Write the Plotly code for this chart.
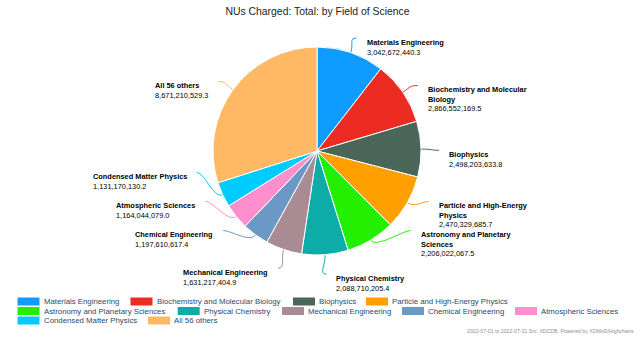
import math
import textwrap
import plotly.graph_objects as go

# ---------------- data ----------------
categories = [
    "Materials Engineering",
    "Biochemistry and Molecular Biology",
    "Biophysics",
    "Particle and High-Energy Physics",
    "Astronomy and Planetary Sciences",
    "Physical Chemistry",
    "Mechanical Engineering",
    "Chemical Engineering",
    "Atmospheric Sciences",
    "Condensed Matter Physics",
    "All 56 others",
]
values = [
    3042672440.3,
    2866552169.5,
    2498203633.8,
    2470329685.7,
    2206022067.5,
    2088710205.4,
    1631217404.9,
    1197610617.4,
    1164044079.0,
    1131170130.2,
    8671210529.3,
]
colors = [
    "#0f9bff", "#ec2c23", "#4a6659", "#ff9f00", "#22f000", "#0eaca9",
    "#a98b94", "#6b99c6", "#ff8ecf", "#00cbff", "#ffb964",
]
title_text = "NUs Charged: Total: by Field of Science"
credit_text = "2022-07-01 to 2022-07-31 Src: XDCDB. Powered by XDMoD/Highcharts"

# ---------------- layout / style ----------------
W, H = 640, 338
CX, CY, R = 317, 151, 104          # pie centre / radius in pixels
R_LABEL = R + 18                   # label ring
label_dy = [1, 2, 0, -11.6, -26.4, 0, 0, -20.3, -28, -31.1, 1]   # de-overlap nudges
legend_rows = [0, 0, 0, 0, 1, 1, 1, 1, 1, 2, 2]
legend_x = [17.5, 130.5, 293, 366, 17.5, 177.7, 282, 402, 515, 17.5, 148]
legend_row_y = [301.5, 311, 320.5]
FONT = "Liberation Sans, Arial, sans-serif"


def px(x):
    return x / W


def py(y):
    return 1 - y / H


fig = go.Figure(
    go.Pie(
        labels=categories,
        values=values,
        sort=False,
        direction="clockwise",
        rotation=0,
        marker=dict(colors=colors, line=dict(color="white", width=1)),
        textinfo="none",
        showlegend=False,
        domain=dict(x=[px(CX - R), px(CX + R)], y=[py(CY + R), py(CY - R)]),
    )
)

annotations = []
shapes = []

# data labels with connectors
total = sum(values)
cum = 0.0
for i, (name, v) in enumerate(zip(categories, values)):
    mid = (cum + v / 2) / total * 360.0
    cum += v
    th = math.radians(mid)
    ux, uy = math.sin(th), -math.cos(th)
    ex, ey = CX + R * ux, CY + R * uy
    right = mid < 180
    s = 1 if right else -1
    dy = label_dy[i]
    ay = CY + R_LABEL * uy + dy
    if abs(dy) > 3:
        ax = CX + s * math.sqrt(max(R_LABEL ** 2 - (ay - CY) ** 2, 0))
    else:
        ax = CX + R_LABEL * ux
    cy_end = ay + 1.5
    path = (
        f"M {px(ax):.5f},{py(cy_end):.5f} "
        f"C {px(ax - s * 8):.5f},{py(cy_end):.5f} "
        f"{px(ex + 10 * ux):.5f},{py(ey + 10 * uy):.5f} "
        f"{px(ex):.5f},{py(ey):.5f}"
    )
    shapes.append(dict(type="path", xref="paper", yref="paper", path=path,
                       line=dict(color=colors[i], width=1), layer="below"))
    if right:
        name_lines = textwrap.wrap(name, 26)
    else:
        name_lines = [name]
    txt = "<b>" + "<br>".join(name_lines) + "</b><br>" + f"{v:,.1f}"
    annotations.append(dict(
        xref="paper", yref="paper",
        x=px(ax + s * 8), y=py(ay - 0.8),
        xanchor="left" if right else "right", yanchor="top",
        align="left", showarrow=False, text=txt,
        font=dict(family=FONT, size=7.4, color="#000000"),
    ))

# legend (drawn manually to match the compact Highcharts legend)
for i, name in enumerate(categories):
    yc = legend_row_y[legend_rows[i]]
    x0 = legend_x[i]
    shapes.append(dict(type="rect", xref="paper", yref="paper",
                       x0=px(x0), x1=px(x0 + 22), y0=py(yc + 4), y1=py(yc - 4),
                       fillcolor=colors[i], line=dict(width=0)))
    annotations.append(dict(
        xref="paper", yref="paper", x=px(x0 + 24), y=py(yc),
        xanchor="left", yanchor="middle", showarrow=False, text=name,
        font=dict(family=FONT, size=7.8, color="#274b6d"),
    ))

# credits
annotations.append(dict(
    xref="paper", yref="paper", x=px(636), y=py(331),
    xanchor="right", yanchor="middle", showarrow=False, text=credit_text,
    font=dict(family=FONT, size=5.2, color="#909090"),
))

fig.update_layout(
    width=W, height=H,
    margin=dict(l=0, r=0, t=0, b=0),
    paper_bgcolor="white", plot_bgcolor="white",
    title=dict(text=title_text, x=px(317.5), xanchor="center",
               y=py(11), yanchor="middle",
               font=dict(family=FONT, size=10.4, color="#222222")),
    annotations=annotations,
    shapes=shapes,
    showlegend=False,
)

fig.write_html("out.html")
